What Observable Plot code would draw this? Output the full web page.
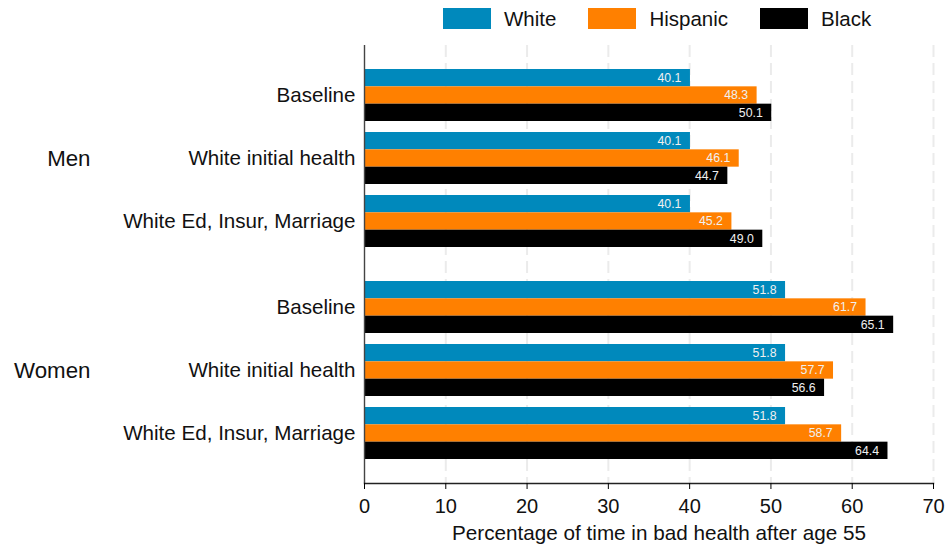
<!DOCTYPE html>
<html><head><meta charset="utf-8">
<script src="https://cdn.jsdelivr.net/npm/d3@7"></script>
<script src="https://cdn.jsdelivr.net/npm/@observablehq/plot@0.6"></script>
<style>
body{margin:0;background:#fff;font-family:"Liberation Sans",Arial,sans-serif;}
#legend{position:relative;height:38px;width:949px;}
#legend .items{position:absolute;left:443px;top:8px;display:flex;gap:32px;}
#legend .item{display:flex;align-items:center;height:21px;font-size:20.5px;color:#111;}
#legend .sw{width:48px;height:21px;margin-right:13px;}
</style></head><body>
<div id="legend"><div class="items"></div></div>
<div id="chart"></div>
<script>
const genders = ["Men", "Women"];
const conditions = ["Baseline", "White initial health", "White Ed, Insur, Marriage"];
const races = ["White", "Hispanic", "Black"];
const raceColors = ["#0089bc", "#ff8000", "#000000"];
const white    = [40.1, 40.1, 40.1, 51.8, 51.8, 51.8];
const hispanic = [48.3, 46.1, 45.2, 61.7, 57.7, 58.7];
const black    = [50.1, 44.7, 49.0, 65.1, 56.6, 64.4];
const xTicks = [0, 10, 20, 30, 40, 50, 60, 70];
const xLabel = "Percentage of time in bad health after age 55";

const rows = [];
genders.forEach((g, gi) => conditions.forEach((c, ci) => {
  const i = gi * 3 + ci;
  rows.push({gender: g, condition: c, key: g + "|" + c, White: white[i], Hispanic: hispanic[i], Black: black[i]});
}));

// legend
const items = d3.select("#legend .items");
races.forEach((r, i) => {
  const it = items.append("div").attr("class", "item");
  it.append("div").attr("class", "sw").style("background", raceColors[i]);
  it.append("span").text(r);
});

const GAP = 23;             // extra space between the Men and Women blocks
const third = 52 / 3;       // bar thickness (band of 52px split into 3)
const insets = [[0, 2 * third], [third, third], [2 * third, 0]];
const offs = [-third, 0, third];

const marks = [
  Plot.ruleX(xTicks.slice(1), {stroke: "#ebebeb", strokeWidth: 2, strokeDasharray: "12,6"})
];
genders.forEach((g, gi) => {
  const sub = rows.filter(d => d.gender === g);
  const shift = gi * GAP;
  races.forEach((r, i) => {
    marks.push(Plot.barX(sub, {
      y: "key", x: r, fill: raceColors[i], dy: shift,
      insetTop: insets[i][0], insetBottom: insets[i][1]
    }));
  });
  races.forEach((r, i) => {
    marks.push(Plot.text(sub, {
      y: "key", x: r, text: d => d[r].toFixed(1),
      dy: offs[i] + shift, dx: -9, textAnchor: "end", fill: "#f0f0f0", fontSize: 12.3
    }));
  });
  marks.push(
    Plot.axisY(sub.map(d => d.key), {tickSize: 0, tickPadding: 9, fontSize: 20.6, label: null, fill: "#111",
      dy: shift, tickFormat: k => k.split("|")[1]}),
    Plot.text([sub[1]], {y: "key", text: d => d.gender, frameAnchor: "left", dx: -274, dy: shift,
      textAnchor: "end", fontSize: 22.3, fill: "#111"})
  );
});
marks.push(
  Plot.ruleX([0], {stroke: "#444", strokeWidth: 1.4}),
  Plot.frame({anchor: "bottom", stroke: "#222", strokeWidth: 1.4}),
  Plot.axisX(xTicks, {tickSize: 6, tickPadding: 9, fontSize: 20, fill: "#111", label: null}),
  Plot.text([xLabel], {text: d => d, frameAnchor: "bottom", lineAnchor: "middle", dx: 10, dy: 49.5, fontSize: 20.7, fill: "#111"})
);

const chart = Plot.plot({
  width: 949, height: 510,
  marginLeft: 364, marginRight: 16, marginTop: 7, marginBottom: 65,
  style: {fontFamily: "Liberation Sans, Arial, sans-serif", background: "#fff", overflow: "visible"},
  x: {domain: [0, 70], axis: null},
  y: {domain: rows.map(d => d.key), axis: null, insetBottom: GAP, paddingInner: 11 / 63, paddingOuter: 24 / 63},
  marks
});
document.getElementById("chart").appendChild(chart);
</script>
</body></html>
